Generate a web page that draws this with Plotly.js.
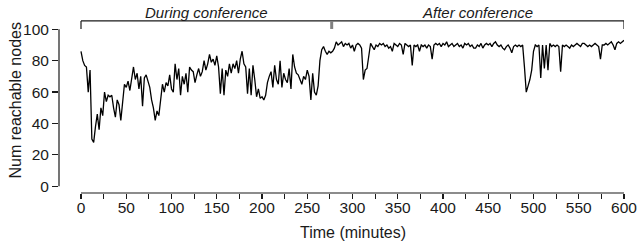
<!DOCTYPE html>
<html><head><meta charset="utf-8">
<script src="https://cdn.plot.ly/plotly-3.0.1.min.js"></script>
<style>html,body{margin:0;padding:0;background:#fff}#chart{width:639px;height:245px}</style>
</head><body><div id="chart"></div>
<script>
// Sampled every 2 minutes, starting at minute 0
const startMinute = 0;
const stepMinutes = 2;
const reachableNodes = [
  86, 80, 77, 76, 60, 74, 30, 28, 38, 46,
  36, 50, 45, 60, 54, 58, 57, 58, 50, 44,
  55, 52, 42, 56, 65, 63, 67, 61, 70, 76,
  68, 72, 62, 70, 51, 69, 71, 66, 63, 55,
  50, 42, 48, 45, 55, 65, 60, 66, 64, 71,
  62, 60, 78, 68, 75, 58, 70, 65, 72, 60,
  76, 74, 73, 66, 71, 75, 70, 73, 80, 74,
  78, 84, 79, 81, 77, 83, 76, 59, 75, 58,
  74, 70, 78, 72, 78, 75, 80, 72, 81, 86,
  78, 76, 59, 75, 58, 77, 68, 57, 62, 56,
  57, 55, 58, 66, 70, 73, 63, 77, 68, 65,
  80, 63, 72, 68, 66, 75, 62, 84, 76, 72,
  71, 68, 65, 70, 68, 74, 70, 55, 72, 60,
  58, 64, 80, 87, 89, 86, 84, 86, 85, 86,
  88, 92, 90, 91, 92, 89, 91, 90, 91, 88,
  90, 86, 90, 91, 90, 88, 68, 74, 75, 83,
  91, 89, 87, 90, 89, 91, 90, 91, 89, 90,
  88, 89, 86, 91, 90, 89, 91, 90, 84, 91,
  90, 89, 90, 77, 90, 89, 90, 86, 90, 89,
  90, 88, 90, 89, 81, 90, 91, 90, 91, 89,
  91, 90, 92, 89, 90, 91, 89, 90, 91, 89,
  90, 88, 91, 90, 91, 89, 90, 88, 88, 90,
  89, 91, 88, 90, 91, 90, 91, 89, 91, 92,
  90, 89, 90, 88, 87, 89, 90, 88, 85, 89,
  90, 89, 90, 89, 90, 76, 60, 64, 68, 74,
  86, 90, 89, 90, 69, 90, 75, 90, 74, 91,
  89, 90, 89, 90, 89, 73, 90, 89, 90, 89,
  88, 90, 89, 90, 91, 90, 89, 91, 91, 90,
  89, 90, 89, 90, 91, 90, 89, 81, 90, 90,
  91, 90, 91, 92, 90, 87, 91, 92, 91, 92,
  93
];
const minutes = reachableNodes.map((_, i) => startMinute + i * stepMinutes);

const xTickVals = [0,25,50,75,100,125,150,175,200,225,250,275,300,325,350,375,400,425,450,475,500,525,550,575,600];
const xTickLabels = ["0","","50","","100","","150","","200","","250","","300","","350","","400","","450","","500","","550","","600"];
const yTickVals = [0,20,40,60,80,100];
const yTickLabels = ["0","20","40","60","80","100"];

const periodLabels = ["During conference", "After conference"];
const periodStart = [0, 277];
const periodEnd = [277, 600];

const FONT = "Liberation Sans, Arial, Helvetica, sans-serif";
const INK = "#1a1a1a";

const bracketY = 105.3, tickBottom = 100.2;
const shapes = [
  {type:'line', xref:'x', yref:'paper', x0:xTickVals[0], x1:xTickVals[xTickVals.length-1], y0:0, y1:0, line:{color:INK, width:1.2}},
  {type:'line', xref:'paper', yref:'y', x0:0, x1:0, y0:yTickVals[0], y1:yTickVals[yTickVals.length-1], line:{color:INK, width:1.2}},
  {type:'line', xref:'x', yref:'y', x0:periodStart[0], x1:periodEnd[1], y0:bracketY, y1:bracketY, line:{color:INK, width:1.2}},
  {type:'line', xref:'x', yref:'y', x0:periodStart[0], x1:periodStart[0], y0:bracketY, y1:tickBottom, line:{color:INK, width:1.2}},
  {type:'line', xref:'x', yref:'y', x0:periodEnd[1], x1:periodEnd[1], y0:bracketY, y1:tickBottom, line:{color:INK, width:1.2}},
  {type:'line', xref:'x', yref:'y', x0:periodStart[1], x1:periodStart[1], y0:bracketY, y1:tickBottom, line:{color:'#808080', width:3}}
];

const annotations = periodLabels.map((t, i) => ({
  text: t, xref:'x', yref:'paper', x:(periodStart[i] + periodEnd[i]) / 2, y:1.014,
  xanchor:'center', yanchor:'middle', showarrow:false,
  font:{family:FONT, size:15, color:INK, style:'italic'}
}));
annotations.push({
  text:'Time (minutes)', xref:'x', yref:'paper', x:300, y:-0.2225,
  xanchor:'center', yanchor:'middle', showarrow:false,
  font:{family:FONT, size:16, color:INK}
});
annotations.push({
  text:'Num reachable nodes', xref:'paper', yref:'y', x:-0.0761, y:54.6,
  xanchor:'center', yanchor:'middle', textangle:-90, showarrow:false,
  font:{family:FONT, size:16, color:INK}
});

const trace = {
  x: minutes, y: reachableNodes, type:'scatter', mode:'lines',
  line:{color:'#000', width:1.3}, hoverinfo:'skip'
};

const layout = {
  width:639, height:245,
  margin:{l:59, r:15, t:15, b:52, pad:0},
  paper_bgcolor:'#fff', plot_bgcolor:'#fff',
  showlegend:false,
  font:{family:FONT, color:INK},
  xaxis:{
    range:[-24.31, 600], showgrid:false, zeroline:false, showline:false,
    tickmode:'array', tickvals:xTickVals, ticktext:xTickLabels,
    ticks:'outside', ticklen:5, tickwidth:1.2, tickcolor:INK,
    ticklabelstandoff:-5,
    tickfont:{family:FONT, size:15.5, color:INK}
  },
  yaxis:{
    range:[-4.27, 109.1], showgrid:false, zeroline:false, showline:false,
    tickmode:'array', tickvals:yTickVals, ticktext:yTickLabels,
    ticks:'outside', ticklen:6, tickwidth:1.2, tickcolor:INK,
    tickfont:{family:FONT, size:15.5, color:INK}
  },
  shapes: shapes,
  annotations: annotations
};

Plotly.newPlot('chart', [trace], layout, {staticPlot:true, displayModeBar:false});
</script>
</body></html>
